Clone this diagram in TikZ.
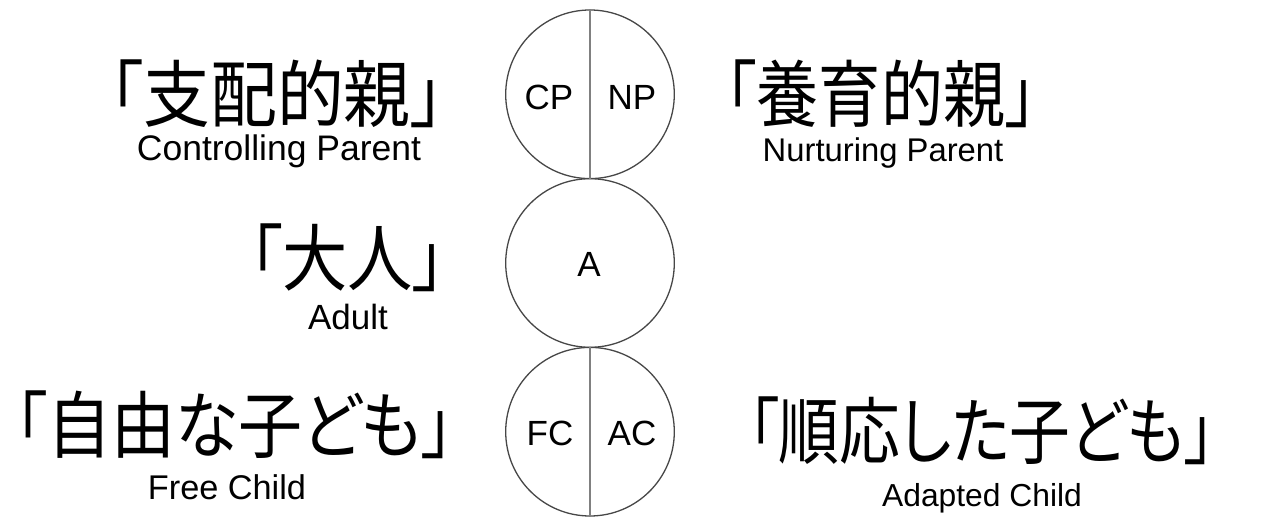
\documentclass[tikz,border=0pt]{standalone}
\usepackage{fontspec}
\setmainfont{Liberation Sans}
\newfontfamily\jp[RawFeature=+palt]{Noto Sans CJK JP}
\newcommand{\jpl}[3]{\scalebox{#1}[#2]{\jp\fontsize{64}{64}\selectfont #3}}
\begin{document}
\begin{tikzpicture}[x=1pt,y=-1pt,
  ring/.style={circle, draw=black!72, line width=1.3pt, minimum size=168.6pt, inner sep=0pt},
  divider/.style={draw=black!50, line width=1.4pt},
  ego/.style={inner sep=0pt, anchor=base, font=\fontsize{35}{35}\selectfont},
  jlabel/.style={inner sep=0pt, anchor=center},
  elabel/.style={inner sep=0pt, anchor=base}]
\useasboundingbox[fill=white] (0,0) rectangle (1264,518);
% circles
\node[ring] (P) at (590,94.3) {};
\node[ring] (Ad) at (590,263) {};
\node[ring] (C) at (590,431.7) {};
\draw[divider] (P.north) -- (P.south);
\draw[divider] (C.north) -- (C.south);
% circle labels
\node[ego] (cp) at (549,110) {CP};
\node[ego] (np) at (632,110) {NP};
\node[ego] (a) at (589,277) {A};
\node[ego] (fc) at (550,446) {FC};
\node[ego] (ac) at (632,446) {AC};
% Japanese labels
\node[jlabel] (cpj) at (277,93.5) {\jpl{1.045}{1.14}{「支配的親」}};
\node[jlabel] (npj) at (881,93.5) {\jpl{0.97}{1.14}{「養育的親」}};
\node[jlabel] (aj) at (347.5,257.5) {\jpl{1.02}{1.14}{「大人」}};
\node[jlabel] (fcj) at (234.5,425) {\jpl{1.0}{1.14}{「自由な子ども」}};
\node[jlabel] (acj) at (981.5,430.5) {\jpl{0.95}{1.14}{「順応した子ども」}};
% English labels
\node[elabel, font=\fontsize{35.5}{35.5}\selectfont] (cpe) at (279,161) {Controlling Parent};
\node[elabel, font=\fontsize{32.8}{32.8}\selectfont] (npe) at (883,162) {Nurturing Parent};
\node[elabel, font=\fontsize{35}{35}\selectfont] (ae) at (348,330) {Adult};
\node[elabel, font=\fontsize{34.3}{34.3}\selectfont] (fce) at (227,499) {Free Child};
\node[elabel, font=\fontsize{31.8}{31.8}\selectfont] (ace) at (982,506) {Adapted Child};
\end{tikzpicture}
\end{document}
